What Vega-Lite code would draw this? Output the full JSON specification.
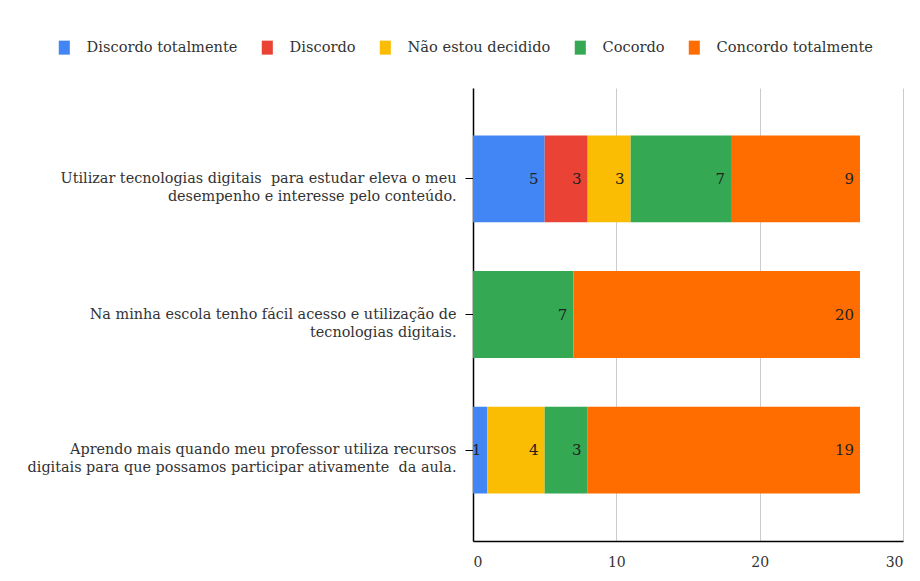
{
  "$schema": "https://vega.github.io/schema/vega-lite/v6.json",
  "width": 430,
  "height": 453,
  "autosize": {"type": "none"},
  "padding": {"left": 473, "top": 88, "right": 17, "bottom": 40},
  "background": "white",
  "config": {
    "font": "DejaVu Serif",
    "view": {"stroke": null}
  },
  "data": {
    "values": [
      {"item": "Utilizar tecnologias digitais \u00a0para estudar eleva o meu|desempenho e interesse pelo conteúdo.", "resp": "Discordo totalmente", "n": 5},
      {"item": "Utilizar tecnologias digitais \u00a0para estudar eleva o meu|desempenho e interesse pelo conteúdo.", "resp": "Discordo", "n": 3},
      {"item": "Utilizar tecnologias digitais \u00a0para estudar eleva o meu|desempenho e interesse pelo conteúdo.", "resp": "Não estou decidido", "n": 3},
      {"item": "Utilizar tecnologias digitais \u00a0para estudar eleva o meu|desempenho e interesse pelo conteúdo.", "resp": "Cocordo", "n": 7},
      {"item": "Utilizar tecnologias digitais \u00a0para estudar eleva o meu|desempenho e interesse pelo conteúdo.", "resp": "Concordo totalmente", "n": 9},
      {"item": "Na minha escola tenho fácil acesso e utilização de|tecnologias digitais.", "resp": "Cocordo", "n": 7},
      {"item": "Na minha escola tenho fácil acesso e utilização de|tecnologias digitais.", "resp": "Concordo totalmente", "n": 20},
      {"item": "Aprendo mais quando meu professor utiliza recursos|digitais para que possamos participar ativamente \u00a0da aula.", "resp": "Discordo totalmente", "n": 1},
      {"item": "Aprendo mais quando meu professor utiliza recursos|digitais para que possamos participar ativamente \u00a0da aula.", "resp": "Não estou decidido", "n": 4},
      {"item": "Aprendo mais quando meu professor utiliza recursos|digitais para que possamos participar ativamente \u00a0da aula.", "resp": "Cocordo", "n": 3},
      {"item": "Aprendo mais quando meu professor utiliza recursos|digitais para que possamos participar ativamente \u00a0da aula.", "resp": "Concordo totalmente", "n": 19}
    ]
  },
  "transform": [
    {"stack": "n", "groupby": ["item"], "as": ["v0", "v1"]}
  ],
  "encoding": {
    "y": {
      "field": "item",
      "type": "nominal",
      "sort": null,
      "title": null,
      "scale": {"paddingInner": 0.36, "paddingOuter": 0.35},
      "axis": {
        "labelExpr": "split(datum.label, '|')",
        "labelFont": "DejaVu Serif",
        "labelFontSize": 14.4,
        "labelColor": "#333333",
        "labelLineHeight": 18,
        "labelLimit": 460,
        "labelPadding": 9,
        "tickSize": 8,
        "tickColor": "#000000",
        "domainColor": "#000000",
        "domainWidth": 1.5
      }
    }
  },
  "layer": [
    {
      "mark": {"type": "bar"},
      "encoding": {
        "x": {
          "field": "v0",
          "type": "quantitative",
          "scale": {"domain": [0, 30]},
          "title": null,
          "axis": {
            "values": [0, 10, 20, 30],
            "grid": true,
            "gridColor": "#cccccc",
            "domainColor": "#000000",
            "domainWidth": 1.5,
            "ticks": false,
            "labelPadding": 14,
            "labelFont": "DejaVu Serif",
            "labelFontSize": 14,
            "labelColor": "#333333"
          }
        },
        "x2": {"field": "v1"},
        "color": {
          "field": "resp",
          "type": "nominal",
          "scale": {
            "domain": ["Discordo totalmente", "Discordo", "Não estou decidido", "Cocordo", "Concordo totalmente"],
            "range": ["#4285F4", "#EA4335", "#FBBC04", "#34A853", "#FF6D01"]
          },
          "legend": {
            "title": null,
            "orient": "none",
            "direction": "horizontal",
            "legendX": -416,
            "legendY": -48,
            "symbolType": "M-0.79,-1H0.79V1H-0.79Z",
            "symbolSize": 196,
            "symbolStrokeWidth": 0,
            "symbolOpacity": 1,
            "labelFont": "DejaVu Serif",
            "labelFontSize": 14.6,
            "labelColor": "#333333",
            "labelOffset": 15,
            "columnPadding": 22,
            "labelLimit": 300
          }
        }
      }
    },
    {
      "mark": {"type": "text", "align": "right", "baseline": "middle", "dx": -6, "fontSize": 15, "color": "#222222", "font": "DejaVu Serif"},
      "encoding": {
        "x": {"field": "v1", "type": "quantitative"},
        "text": {"field": "n", "type": "quantitative"}
      }
    }
  ]
}
